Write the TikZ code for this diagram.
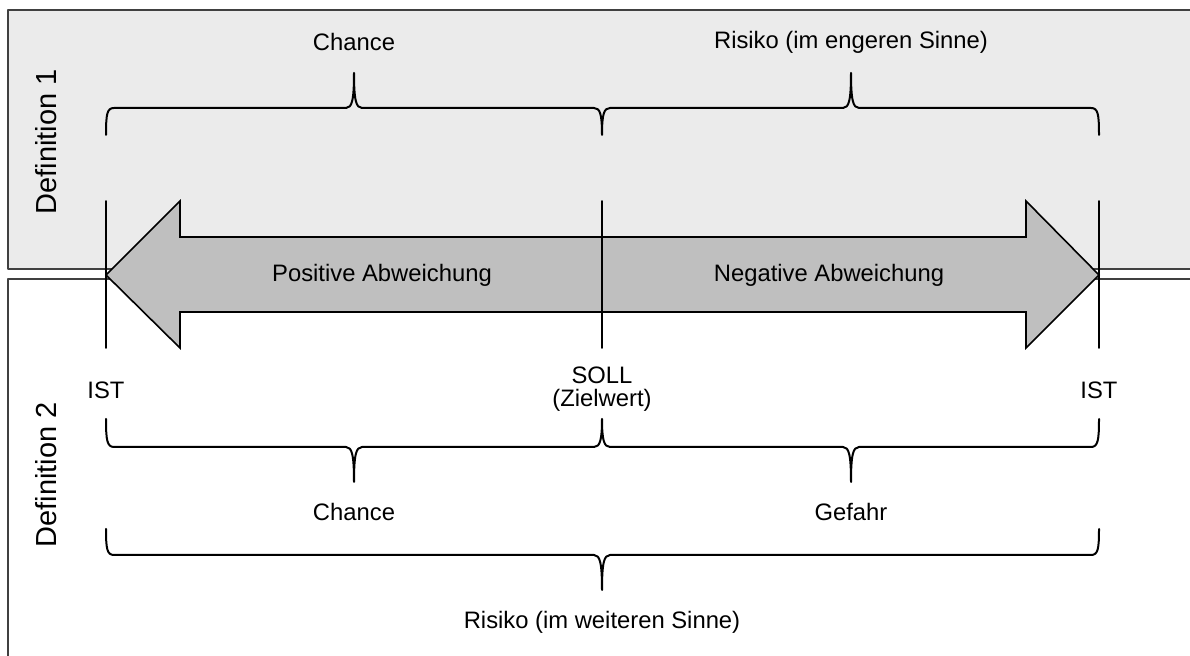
\documentclass[tikz,border=0pt]{standalone}
\usepackage{fontspec}
\setmainfont{Liberation Sans}
\begin{document}
\begin{tikzpicture}[line join=round, line cap=round, x=0.5pt, y=-0.5pt,
    every node/.style={font=\fontsize{11.9}{11.5}\selectfont},
    deflabel/.style={rotate=90, font=\fontsize{14.5}{17}\selectfont},
    panel/.style={draw=black!75, line width=1pt},
    curly/.style={draw=black, line width=1pt},
    marker/.style={draw=black, line width=0.8pt}]

    \useasboundingbox (0,0) rectangle (1190,656);

    % Felder
    \filldraw[panel, fill=black!8] (8,10) rectangle (1220,269);
    \draw[panel] (1220,279) -- (8,279) -- (8,690);

    % Doppelpfeil
    \coordinate (PL) at (106,275);
    \coordinate (PR) at (1099,275);
    \filldraw[fill=black!25, line width=0.8pt, line cap=butt, line join=miter]
        (PL) -- (180,201) -- (180,237) -- (1026,237) -- (1026,201) -- (PR)
        -- (1026,348) -- (1026,312) -- (180,312) -- (180,348) -- cycle;

    \foreach \x in {106,602,1099}
        \draw[marker] (\x,201) -- (\x,348);

    % Klammern oben
    \draw[curly] (106,135) .. controls (106,114) and (107,108) .. (114,108) -- (346,108)
        .. controls (352,108) and (354,100) .. (354,73)
        .. controls (354,100) and (356,108) .. (362,108) -- (594,108)
        .. controls (600,108) and (602,114) .. (602,135)
        .. controls (602,114) and (604,108) .. (610,108) -- (843,108)
        .. controls (849,108) and (851,100) .. (851,73)
        .. controls (851,100) and (853,108) .. (859,108) -- (1091,108)
        .. controls (1098,108) and (1099,114) .. (1099,135);

    % Klammern unten
    \draw[curly] (106,419) .. controls (106,440) and (107,447) .. (114,447) -- (346,447)
        .. controls (352,447) and (354,455) .. (354,482)
        .. controls (354,455) and (356,447) .. (362,447) -- (594,447)
        .. controls (600,447) and (602,440) .. (602,419)
        .. controls (602,440) and (604,447) .. (610,447) -- (843,447)
        .. controls (849,447) and (851,455) .. (851,482)
        .. controls (851,455) and (853,447) .. (859,447) -- (1091,447)
        .. controls (1098,447) and (1099,440) .. (1099,419);

    \draw[curly] (106,529) .. controls (106,549) and (107,555) .. (114,555) -- (594,555)
        .. controls (600,555) and (602,563) .. (602,590)
        .. controls (602,563) and (604,555) .. (610,555) -- (1091,555)
        .. controls (1098,555) and (1099,549) .. (1099,529);

    % Beschriftungen
    \node[deflabel] (def1) at (46,142) {Definition 1};
    \node[deflabel] (def2) at (46,475) {Definition 2};

    \node (chanceA) at (354,42) {Chance};
    \node (risikoE) at (851,42) {Risiko (im engeren Sinne)};
    \node (posAbw) at (382,275) {Positive Abweichung};
    \node (negAbw) at (829,275) {Negative Abweichung};
    \node (istL) at (106,390) {IST};
    \node (istR) at (1099,390) {IST};
    \node[align=center] (soll) at (602,389) {SOLL\\(Zielwert)};
    \node (chanceB) at (354,512) {Chance};
    \node (gefahr) at (851,512) {Gefahr};
    \node (risikoW) at (602,622) {Risiko (im weiteren Sinne)};
\end{tikzpicture}
\end{document}
